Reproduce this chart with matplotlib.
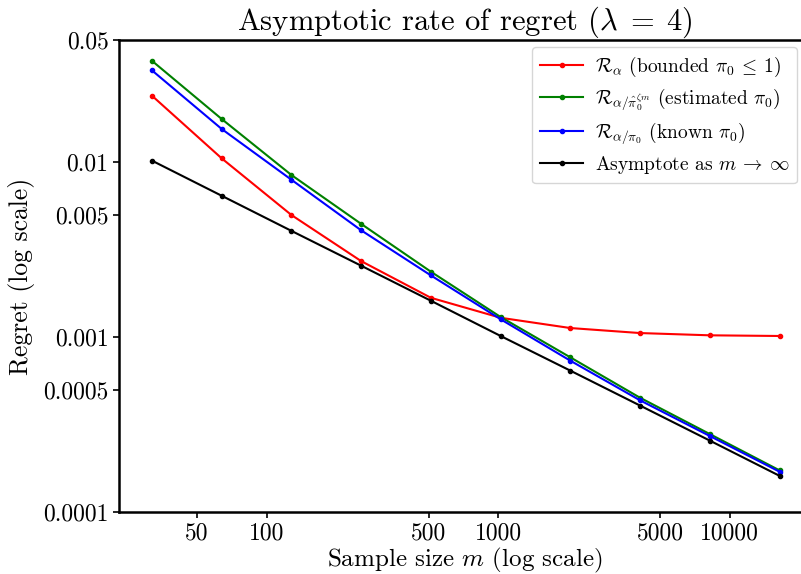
import matplotlib
matplotlib.use("Agg")
import matplotlib.pyplot as plt
from matplotlib.ticker import FixedLocator, FixedFormatter, NullLocator

plt.rcParams['font.family'] = 'serif'
plt.rcParams['font.serif'] = ['cmr10']
plt.rcParams['mathtext.fontset'] = 'cm'
plt.rcParams['axes.formatter.use_mathtext'] = True

m_values = [32, 64, 128, 256, 512, 1024, 2048, 4096, 8192, 16384]
regret_bounded = [0.0240, 0.01052, 0.00499, 0.00272, 0.001678, 0.00129, 0.001127, 0.001055, 0.001024, 0.001015]
regret_estimated = [0.0380, 0.01766, 0.00845, 0.00444, 0.002366, 0.001303, 0.000766, 0.000450, 0.000279, 0.000173]
regret_known = [0.0335, 0.01549, 0.00794, 0.00408, 0.002253, 0.001265, 0.000733, 0.000435, 0.000272, 0.000170]
asymptote = [0.01021, 0.00643, 0.00405, 0.00256, 0.001614, 0.001015, 0.000643, 0.000406, 0.000256, 0.000161]

labels = [r'$\mathcal{R}_\alpha$ (bounded $\pi_0 \:\leq\: 1$)',
          r'$\mathcal{R}_{\alpha/\hat{\pi}_0^{\zeta m}}$ (estimated $\pi_0$)',
          r'$\mathcal{R}_{\alpha/\pi_0}$ (known $\pi_0$)',
          r'Asymptote as $m \:\to\: \infty$']
colors = ['red', 'green', 'blue', 'black']

xticks = [50, 100, 500, 1000, 5000, 10000]
xticklabels = ['50', '100', '500', '1000', '5000', '10000']
yticks = [0.05, 0.01, 0.005, 0.001, 0.0005, 0.0001]
yticklabels = ['0.05', '0.01', '0.005', '0.001', '0.0005', '0.0001']

W, H = 801, 574
fig = plt.figure(figsize=(W / 100, H / 100), dpi=100)
ax = fig.add_axes([119 / W, 62 / H, 692 / W, 472 / H])

for ys, c, lab in zip([regret_bounded, regret_estimated, regret_known, asymptote], colors, labels):
    ax.plot(m_values, ys, color=c, marker='.', markersize=6, linewidth=1.5, label=lab)

ax.set_xscale('log')
ax.set_yscale('log')
ax.set_xlim(23.05, 22400)
ax.set_ylim(0.0001, 0.05)

ax.xaxis.set_major_locator(FixedLocator(xticks))
ax.xaxis.set_major_formatter(FixedFormatter(xticklabels))
ax.xaxis.set_minor_locator(NullLocator())
ax.yaxis.set_major_locator(FixedLocator(yticks))
ax.yaxis.set_major_formatter(FixedFormatter(yticklabels))
ax.yaxis.set_minor_locator(NullLocator())

ax.tick_params(axis='both', which='major', labelsize=17, length=4, width=1.2, direction='out')
for s in ax.spines.values():
    s.set_linewidth(1.8)

ax.set_title(r'Asymptotic rate of regret ($\lambda \;=\; 4$)', fontsize=22, pad=4)
ax.set_xlabel(r'Sample size $m$ (log scale)', fontsize=18, labelpad=1)
ax.set_ylabel('Regret (log scale)', fontsize=18.5, labelpad=6)

ax.legend(loc='upper right', bbox_to_anchor=(797 / W, 1 - 47 / H), bbox_transform=fig.transFigure,
          borderaxespad=0, fontsize=14, handlelength=2.2, handletextpad=0.6,
          labelspacing=0.38, borderpad=0.4)

fig.savefig('out.png', dpi=100)
